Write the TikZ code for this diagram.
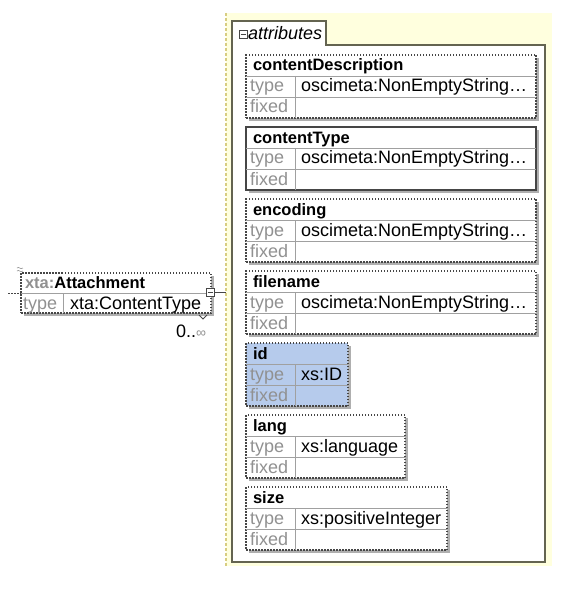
\documentclass[tikz,border=0pt]{standalone}
\usepackage{fontspec}
\setmainfont{Liberation Sans}
\usetikzlibrary{shadows}
\definecolor{panelyellow}{RGB}{255,255,222}
\definecolor{paneledge}{RGB}{215,205,130}
\definecolor{frameline}{RGB}{100,100,80}
\definecolor{boxline}{RGB}{70,70,70}
\definecolor{rowgray}{RGB}{160,160,160}
\definecolor{labelgray}{RGB}{145,145,145}
\definecolor{shadowgray}{RGB}{175,175,175}
\definecolor{idblue}{RGB}{182,203,236}
\newcommand{\rowfont}{\fontsize{18}{20}\selectfont}
\newcommand{\hdrfont}{\fontsize{16.5}{18}\selectfont\bfseries}
\begin{document}
\begin{tikzpicture}[x=1pt, y=-1pt, inner sep=0pt, outer sep=0pt,
    att/.style={draw=boxline, dash pattern=on 1.5pt off 1.5pt, line width=1.1pt,
      fill=white, anchor=north west, minimum height=63pt,
      general shadow={fill=shadowgray, shadow xshift=3pt, shadow yshift=-3pt}},
    attsolid/.style={att, solid, line width=1.3pt},
    attname/.style={anchor=base west, font=\hdrfont},
    lbl/.style={anchor=base west, font=\rowfont, text=labelgray},
    val/.style={anchor=base west, font=\rowfont},
    rowline/.style={draw=rowgray, line width=0.9pt},
    frame/.style={draw=frameline, line width=1.3pt, fill=white}]
   \useasboundingbox (0,0) rectangle (578,604);
   % attributes panel
   \fill[panelyellow] (226,13) rectangle (552,566);
   \draw[paneledge, dash pattern=on 3pt off 2pt, line width=1.2pt] (226,13) -- (226,566);
   \draw[frame] (232,562) -- (232,21) -- (326,21) -- (326,45) -- (545,45) -- (545,562) -- cycle;
   \node[draw=boxline, line width=0.7pt, minimum size=8pt] (tabsign) at (243,34) {};
   \draw[boxline, line width=0.7pt] ([xshift=1.5pt]tabsign.west) -- ([xshift=-1.5pt]tabsign.east);
   \node[anchor=base west, font=\rowfont\itshape] (tabtext) at (248,40) {attributes};
   % contentDescription
   \node[att, minimum width=290pt] (cdesc) at (246,55) {};
   \draw[rowline] (246,76) -- (536,76) (246,97) -- (536,97) (295,76) -- (295,118);
   \node[attname] (cdesc-n) at (253,71) {contentDescription};
   \node[lbl] (cdesc-t) at (250,92) {type};
   \node[val] (cdesc-v) at (301,92) {oscimeta:NonEmptyString…};
   \node[lbl] (cdesc-f) at (250,113) {fixed};
   % contentType
   \node[attsolid, minimum width=290pt] (ctype) at (246,127) {};
   \draw[rowline] (246,148) -- (536,148) (246,169) -- (536,169) (295,148) -- (295,190);
   \node[attname] (ctype-n) at (253,143) {contentType};
   \node[lbl] (ctype-t) at (250,164) {type};
   \node[val] (ctype-v) at (301,164) {oscimeta:NonEmptyString…};
   \node[lbl] (ctype-f) at (250,185) {fixed};
   % encoding
   \node[att, minimum width=290pt] (enc) at (246,199) {};
   \draw[rowline] (246,220) -- (536,220) (246,241) -- (536,241) (295,220) -- (295,262);
   \node[attname] (enc-n) at (253,215) {encoding};
   \node[lbl] (enc-t) at (250,236) {type};
   \node[val] (enc-v) at (301,236) {oscimeta:NonEmptyString…};
   \node[lbl] (enc-f) at (250,257) {fixed};
   % filename
   \node[att, minimum width=290pt] (fname) at (246,271) {};
   \draw[rowline] (246,292) -- (536,292) (246,313) -- (536,313) (295,292) -- (295,334);
   \node[attname] (fname-n) at (253,287) {filename};
   \node[lbl] (fname-t) at (250,308) {type};
   \node[val] (fname-v) at (301,308) {oscimeta:NonEmptyString…};
   \node[lbl] (fname-f) at (250,329) {fixed};
   % id
   \node[att, fill=idblue, minimum width=102pt] (idattr) at (246,343) {};
   \draw[rowline] (246,364) -- (348,364) (246,385) -- (348,385) (295,364) -- (295,406);
   \node[attname] (idattr-n) at (253,359) {id};
   \node[lbl] (idattr-t) at (250,380) {type};
   \node[val] (idattr-v) at (301,380) {xs:ID};
   \node[lbl] (idattr-f) at (250,401) {fixed};
   % lang
   \node[att, minimum width=159pt] (lang) at (246,415) {};
   \draw[rowline] (246,436) -- (405,436) (246,457) -- (405,457) (295,436) -- (295,478);
   \node[attname] (lang-n) at (253,431) {lang};
   \node[lbl] (lang-t) at (250,452) {type};
   \node[val] (lang-v) at (301,452) {xs:language};
   \node[lbl] (lang-f) at (250,473) {fixed};
   % size
   \node[att, minimum width=201pt] (size) at (246,487) {};
   \draw[rowline] (246,508) -- (447,508) (246,529) -- (447,529) (295,508) -- (295,550);
   \node[attname] (size-n) at (253,503) {size};
   \node[lbl] (size-t) at (250,524) {type};
   \node[val] (size-v) at (301,524) {xs:positiveInteger};
   \node[lbl] (size-f) at (250,545) {fixed};
   % element
   \node[att, minimum width=190pt, minimum height=40pt] (attach) at (21,273) {};
   \draw[rowline] (21,293) -- (211,293) (63,293) -- (63,313);
   \node[attname] (attach-n) at (25,288) {\textcolor{labelgray}{xta:}Attachment};
   \node[lbl] (attach-t) at (23,309) {type};
   \node[val] (attach-v) at (70,309) {xta:ContentType};
   \draw[labelgray, line width=0.6pt] (17,268) .. controls (19,266) and (20,270) .. (23,268);
   \draw[labelgray, line width=0.6pt] (17,271) .. controls (19,269) and (20,273) .. (23,271);
   \coordinate (parent) at (8,293);
   \draw[boxline, dash pattern=on 1.5pt off 1.5pt, line width=1pt] (parent) -- (attach.west);
   \node[draw=boxline, fill=white, line width=0.8pt, minimum size=8pt] (conn) at (210,292) {};
   \draw[boxline, line width=0.8pt] ([xshift=1.5pt]conn.west) -- ([xshift=-1.5pt]conn.east);
   \coordinate (attin) at (226,292);
   \draw[boxline, line width=0.8pt] (conn) -- (attin);
   \draw[boxline, line width=0.8pt] (199,315) -- (203,319) -- (207,315);
   \node[anchor=base east, font=\rowfont] (occ) at (206,337) {0..\textcolor{labelgray}{\fontsize{14}{14}\selectfont ∞}};
\end{tikzpicture}
\end{document}
